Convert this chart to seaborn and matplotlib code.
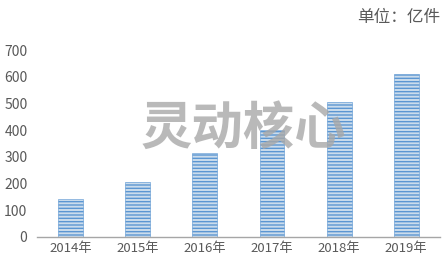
import matplotlib
matplotlib.use('Agg')
import matplotlib.pyplot as plt
import seaborn as sns
import pandas as pd

years = ['2014年', '2015年', '2016年', '2017年', '2018年', '2019年']
volumes = [140, 206, 313, 400, 507, 610]
unit_label = '单位：亿件'
watermark = '灵动核心'

sns.set_style('white')
plt.rcParams['font.family'] = ['Noto Sans CJK SC', 'DejaVu Sans']
plt.rcParams['hatch.linewidth'] = 1.0

df = pd.DataFrame({'year': years, 'volume': volumes})

fig = plt.figure(figsize=(4.42, 2.57), dpi=100)
ax = fig.add_axes([0.084, 0.079, 0.911, 0.726])

sns.barplot(data=df, x='year', y='volume', ax=ax, width=0.37,
            color='#c6dcf1', edgecolor='#5b96d2', linewidth=0.4, hatch='-----')

ax.set_ylim(0, 700)
ax.set_xlim(-0.5, 5.5)
ax.set_yticks(range(0, 701, 100))
ax.set_xlabel('')
ax.set_ylabel('')
for side in ['top', 'right', 'left']:
    ax.spines[side].set_visible(False)
ax.spines['bottom'].set_color('#a6a6a6')
ax.spines['bottom'].set_linewidth(1.0)
ax.tick_params(axis='both', length=0, colors='#595959', labelsize=9.5)
ax.tick_params(axis='y', labelsize=10, pad=7)
ax.tick_params(axis='x', pad=4)

fig.text(0.995, 0.93, unit_label, ha='right', va='center', fontsize=12, color='#595959')
fig.text(0.55, 0.50, watermark, ha='center', va='center', fontsize=37,
         fontweight='bold', color='#a8a8a8', alpha=0.8)

fig.savefig('out.png', dpi=100)
